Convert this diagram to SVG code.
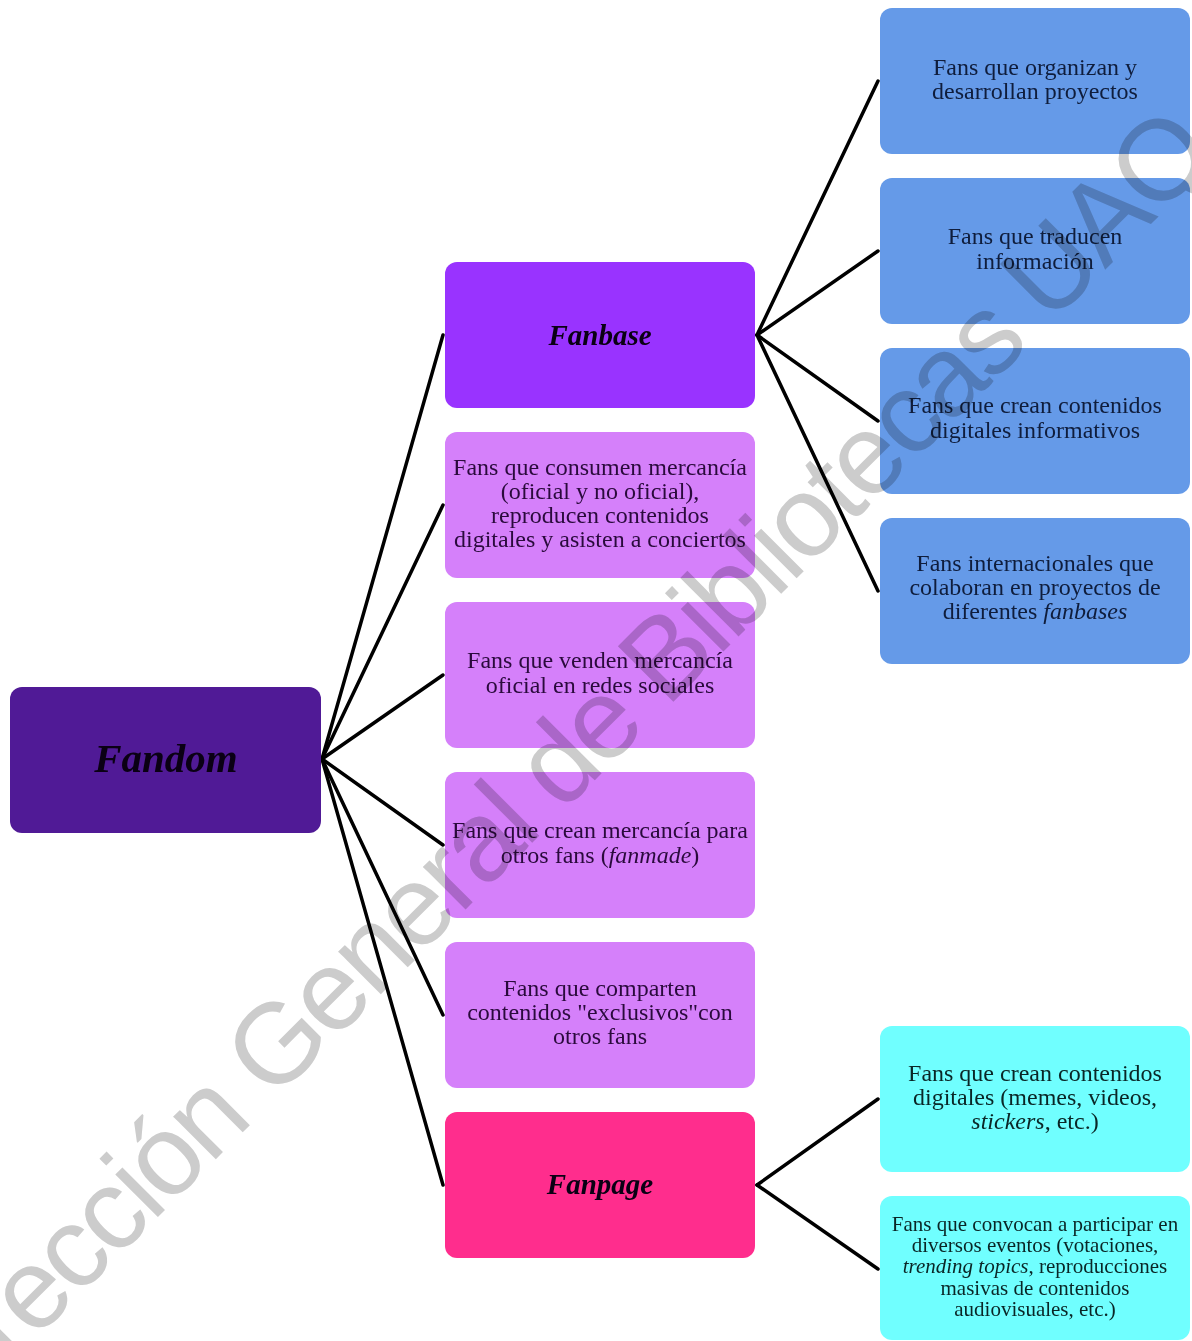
<svg xmlns="http://www.w3.org/2000/svg" width="1192" height="1341" viewBox="0 0 1192 1341">
<style>
.box{stroke:none}
.t{font-family:"Liberation Serif","Times New Roman",serif;font-size:24px;text-anchor:middle}
.ts{font-size:21px}
.h{font-family:"Liberation Serif","Times New Roman",serif;font-weight:bold;font-style:italic;text-anchor:middle;fill:#0a0014}
.i{font-style:italic}
.dk{fill:#0f1d3c}
.pk{fill:#2a0a3c}
.cy{fill:#0a2626}
.c line{stroke:#000;stroke-width:3.5;stroke-linecap:round}
</style>
<rect width="1192" height="1341" fill="#fff"/>
<g class="c" id="connectors">
<line x1="322" y1="759" x2="443" y2="335"/>
<line x1="322" y1="759" x2="443" y2="505"/>
<line x1="322" y1="759" x2="443" y2="675"/>
<line x1="322" y1="759" x2="443" y2="845"/>
<line x1="322" y1="759" x2="443" y2="1015"/>
<line x1="322" y1="759" x2="443" y2="1185"/>
<line x1="757" y1="335" x2="878" y2="81"/>
<line x1="757" y1="335" x2="878" y2="251"/>
<line x1="757" y1="335" x2="878" y2="421"/>
<line x1="757" y1="335" x2="878" y2="591"/>
<line x1="757" y1="1185" x2="878" y2="1099"/>
<line x1="757" y1="1185" x2="878" y2="1269"/>
</g>
<g id="fandom">
<rect class="box" x="10" y="687" width="311" height="146" rx="12" fill="#501a96"/>
<text class="h" x="166" y="772" font-size="41">Fandom</text>
</g>
<g id="fanbase">
<rect class="box" x="445" y="262" width="310" height="146" rx="12" fill="#9933ff"/>
<text class="h" x="600" y="345" font-size="29">Fanbase</text>
</g>
<g id="consumen">
<rect class="box" x="445" y="432" width="310" height="146" rx="12" fill="#d580fa"/>
<text class="t pk" x="600" y="475">Fans que consumen mercancía</text>
<text class="t pk" x="600" y="499">(oficial y no oficial),</text>
<text class="t pk" x="600" y="523">reproducen contenidos</text>
<text class="t pk" x="600" y="547">digitales y asisten a conciertos</text>
</g>
<g id="venden">
<rect class="box" x="445" y="602" width="310" height="146" rx="12" fill="#d580fa"/>
<text class="t pk" x="600" y="668">Fans que venden mercancía</text>
<text class="t pk" x="600" y="693">oficial en redes sociales</text>
</g>
<g id="crean-mercancia">
<rect class="box" x="445" y="772" width="310" height="146" rx="12" fill="#d580fa"/>
<text class="t pk" x="600" y="838">Fans que crean mercancía para</text>
<text class="t pk" x="600" y="863">otros fans (<tspan class="i">fanmade</tspan>)</text>
</g>
<g id="comparten">
<rect class="box" x="445" y="942" width="310" height="146" rx="12" fill="#d580fa"/>
<text class="t pk" x="600" y="996">Fans que comparten</text>
<text class="t pk" x="600" y="1020">contenidos "exclusivos"con</text>
<text class="t pk" x="600" y="1044">otros fans</text>
</g>
<g id="fanpage">
<rect class="box" x="445" y="1112" width="310" height="146" rx="12" fill="#ff2d8d"/>
<text class="h" x="600" y="1194" font-size="29">Fanpage</text>
</g>
<g id="organizan">
<rect class="box" x="880" y="8" width="310" height="146" rx="12" fill="#659ae8"/>
<text class="t dk" x="1035" y="75">Fans que organizan y</text>
<text class="t dk" x="1035" y="99">desarrollan proyectos</text>
</g>
<g id="traducen">
<rect class="box" x="880" y="178" width="310" height="146" rx="12" fill="#659ae8"/>
<text class="t dk" x="1035" y="244">Fans que traducen</text>
<text class="t dk" x="1035" y="269">información</text>
</g>
<g id="informativos">
<rect class="box" x="880" y="348" width="310" height="146" rx="12" fill="#659ae8"/>
<text class="t dk" x="1035" y="413">Fans que crean contenidos</text>
<text class="t dk" x="1035" y="438">digitales informativos</text>
</g>
<g id="internacionales">
<rect class="box" x="880" y="518" width="310" height="146" rx="12" fill="#659ae8"/>
<text class="t dk" x="1035" y="571">Fans internacionales que</text>
<text class="t dk" x="1035" y="595">colaboran en proyectos de</text>
<text class="t dk" x="1035" y="619">diferentes <tspan class="i">fanbases</tspan></text>
</g>
<g id="memes">
<rect class="box" x="880" y="1026" width="310" height="146" rx="12" fill="#70ffff"/>
<text class="t cy" x="1035" y="1081">Fans que crean contenidos</text>
<text class="t cy" x="1035" y="1105">digitales (memes, videos,</text>
<text class="t cy" x="1035" y="1129"><tspan class="i">stickers</tspan>, etc.)</text>
</g>
<g id="convocan">
<rect class="box" x="880" y="1196" width="310" height="144" rx="12" fill="#70ffff"/>
<text class="t ts cy" x="1035" y="1231">Fans que convocan a participar en</text>
<text class="t ts cy" x="1035" y="1252">diversos eventos (votaciones,</text>
<text class="t ts cy" x="1035" y="1273"><tspan class="i">trending topics</tspan>, reproducciones</text>
<text class="t ts cy" x="1035" y="1295">masivas de contenidos</text>
<text class="t ts cy" x="1035" y="1316">audiovisuales, etc.)</text>
</g>
<g id="watermark" style="mix-blend-mode:multiply">
<text x="-61" y="1436" transform="rotate(-45 -61 1436)" font-family="Liberation Sans, Arial, sans-serif" font-size="114" letter-spacing="-3.5" fill="#cccccc">Dirección General de Bibliotecas UAQ</text>
</g>
</svg>
